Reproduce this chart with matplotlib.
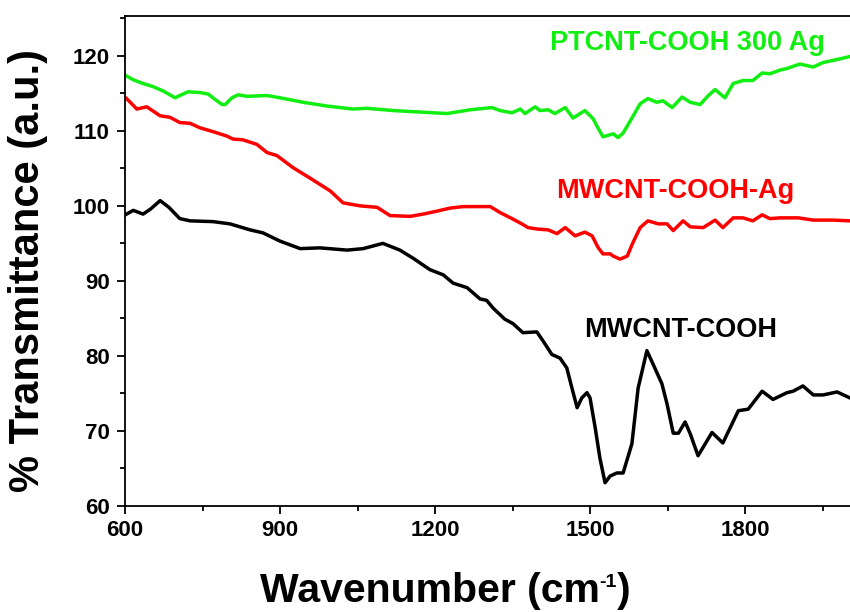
import matplotlib
matplotlib.use("Agg")
import matplotlib.pyplot as plt

# =========================
# DATA
# =========================

cooh_x = [603, 616, 635, 650, 668, 685, 706, 726, 770, 803, 842, 867, 900, 939,
          977, 1030, 1061, 1099, 1132, 1158, 1190, 1216, 1235, 1262, 1287, 1300,
          1312, 1335, 1351, 1370, 1397, 1409, 1426, 1442, 1455, 1465, 1475, 1484,
          1494, 1500, 1510, 1519, 1529, 1539, 1552, 1564, 1581, 1593, 1610, 1622,
          1639, 1649, 1661, 1671, 1684, 1694, 1709, 1723, 1736, 1757, 1771, 1787,
          1806, 1833, 1854, 1881, 1893, 1912, 1932, 1951, 1978, 2003]
cooh_y = [98.9, 99.4, 98.9, 99.6, 100.7, 99.8, 98.3, 98.0, 97.9, 97.6, 96.8, 96.4,
          95.3, 94.3, 94.4, 94.1, 94.3, 95.0, 94.1, 93.0, 91.5, 90.8, 89.7, 89.1,
          87.6, 87.4, 86.4, 84.9, 84.3, 83.1, 83.2, 82.0, 80.2, 79.7, 78.4, 75.7,
          73.1, 74.4, 75.1, 74.4, 70.4, 66.4, 63.1, 64.0, 64.4, 64.4, 68.3, 75.7,
          80.7, 78.9, 76.3, 73.6, 69.7, 69.7, 71.2, 69.6, 66.7, 68.3, 69.8, 68.4,
          70.4, 72.7, 72.9, 75.3, 74.2, 75.1, 75.3, 76.0, 74.8, 74.8, 75.2, 74.4]

ag_x = [603, 623, 642, 668, 687, 706, 726, 745, 770, 797, 809, 828, 855, 875, 894,
        925, 958, 997, 1022, 1055, 1088, 1113, 1152, 1177, 1204, 1229, 1254, 1307,
        1326, 1349, 1368, 1380, 1399, 1419, 1436, 1452, 1471, 1490, 1504, 1516,
        1525, 1539, 1545, 1558, 1572, 1583, 1597, 1612, 1632, 1649, 1661, 1680,
        1694, 1719, 1742, 1757, 1777, 1796, 1815, 1833, 1848, 1868, 1903, 1932,
        1970, 2003]
ag_y = [114.3, 112.9, 113.2, 112.0, 111.8, 111.1, 111.0, 110.4, 109.9, 109.3, 108.9,
        108.8, 108.2, 107.1, 106.7, 105.1, 103.7, 102.0, 100.4, 100.0, 99.8, 98.7,
        98.6, 98.9, 99.3, 99.7, 99.9, 99.9, 99.1, 98.3, 97.6, 97.1, 96.9, 96.8,
        96.3, 97.1, 96.0, 96.5, 96.0, 94.4, 93.6, 93.6, 93.3, 92.9, 93.3, 95.1,
        97.1, 98.0, 97.6, 97.6, 96.7, 98.0, 97.2, 97.1, 98.1, 97.1, 98.4, 98.4,
        98.0, 98.8, 98.3, 98.4, 98.4, 98.1, 98.1, 98.0]

pt_x = [603, 616, 635, 654, 674, 697, 706, 722, 745, 761, 774, 788, 794, 807, 819,
        836, 875, 900, 945, 991, 1041, 1068, 1119, 1171, 1223, 1268, 1310, 1326,
        1349, 1365, 1374, 1394, 1403, 1419, 1432, 1452, 1467, 1490, 1506, 1516,
        1525, 1545, 1554, 1564, 1581, 1597, 1612, 1629, 1641, 1659, 1678, 1694,
        1713, 1729, 1742, 1761, 1777, 1796, 1815, 1833, 1848, 1868, 1881, 1906,
        1932, 1951, 1978, 2003]
pt_y = [117.3, 116.8, 116.3, 115.9, 115.3, 114.4, 114.7, 115.2, 115.1, 114.9, 114.2,
        113.5, 113.5, 114.4, 114.8, 114.6, 114.7, 114.4, 113.8, 113.3, 112.9, 113.0,
        112.7, 112.5, 112.3, 112.8, 113.1, 112.7, 112.4, 112.9, 112.3, 113.2, 112.7,
        112.8, 112.3, 113.1, 111.7, 112.7, 111.6, 110.3, 109.2, 109.6, 109.1, 109.7,
        111.7, 113.6, 114.3, 113.8, 114.0, 113.1, 114.5, 113.8, 113.5, 114.7, 115.5,
        114.4, 116.3, 116.7, 116.7, 117.7, 117.6, 118.1, 118.3, 118.9, 118.5, 119.1,
        119.5, 119.9]

x_ticks = [600, 900, 1200, 1500, 1800]
y_ticks = [60, 70, 80, 90, 100, 110, 120]

# =========================
# CHART
# =========================

plt.rcParams["font.family"] = ["Liberation Sans", "DejaVu Sans"]
plt.rcParams["font.weight"] = "bold"

green = "#11ee11"

fig = plt.figure(figsize=(8.5, 6.12), dpi=100)
ax = fig.add_axes([125 / 850, 106 / 612, 726 / 850, 490 / 612])

ax.plot(cooh_x, cooh_y, color="black", lw=2.5)
ax.plot(ag_x, ag_y, color="#ff0000", lw=2.5)
ax.plot(pt_x, pt_y, color=green, lw=2.5)

ax.text(1423, 121.7, "PTCNT-COOH 300 Ag", color=green, fontsize=19.5,
        fontweight="bold", va="center", ha="left")
ax.text(1434, 102.0, "MWCNT-COOH-Ag", color="#ff0000", fontsize=19.5,
        fontweight="bold", va="center", ha="left")
ax.text(1488, 83.4, "MWCNT-COOH", color="black", fontsize=19.5,
        fontweight="bold", va="center", ha="left")

ax.set_xlim(600, 2005)
ax.set_ylim(60, 125.3)
ax.set_xticks(x_ticks)
ax.set_yticks(y_ticks)
ax.set_xticks([750, 1050, 1350, 1650, 1950], minor=True)
ax.set_yticks([65, 75, 85, 95, 105, 115, 125], minor=True)

ax.tick_params(which="major", direction="out", length=6, width=1.3,
               labelsize=16, pad=4)
ax.tick_params(axis="y", which="major", pad=5)
ax.tick_params(which="minor", direction="out", length=3.5, width=1.3)
for lbl in ax.get_xticklabels() + ax.get_yticklabels():
    lbl.set_fontweight("bold")

ax.spines["right"].set_visible(False)
for s in ["left", "bottom", "top"]:
    ax.spines[s].set_linewidth(1.3)

ax.set_ylabel("% Transmittance (a.u.)", fontsize=30, fontweight="bold")
ax.yaxis.set_label_coords((48 - 125) / 726, (506 - 270) / 490)

# x label built from pieces so the superscript uses a plain hyphen
renderer = fig.canvas.get_renderer()
base_y = (612 - 602) / 612
t1 = fig.text(0, base_y, "Wavenumber (cm", fontsize=29.5, fontweight="bold",
              va="baseline", ha="left")
t2 = fig.text(0, (612 - 587) / 612, "-1", fontsize=14, fontweight="bold",
              va="baseline", ha="left")
t3 = fig.text(0, base_y, ")", fontsize=29.5, fontweight="bold",
              va="baseline", ha="left")
w1 = t1.get_window_extent(renderer).width
w2 = t2.get_window_extent(renderer).width
w3 = t3.get_window_extent(renderer).width
start = 445 - (w1 + w2 + w3) / 2
t1.set_x(start / 850)
t2.set_x((start + w1) / 850)
t3.set_x((start + w1 + w2) / 850)

plt.savefig("out.png", dpi=100)
plt.close()
